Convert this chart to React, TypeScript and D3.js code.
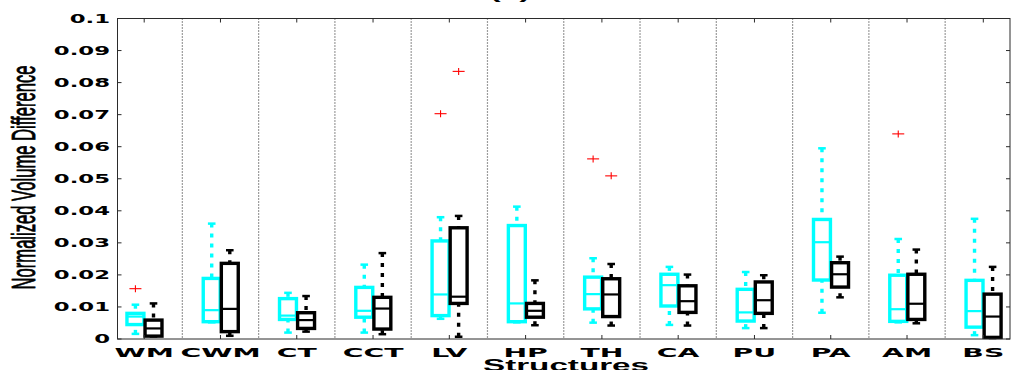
import * as d3 from 'd3'

const structures = ['WM', 'CWM', 'CT', 'CCT', 'LV', 'HP', 'TH', 'CA', 'PU', 'PA', 'AM', 'BS']
const yTicks = [0, 0.01, 0.02, 0.03, 0.04, 0.05, 0.06, 0.07, 0.08, 0.09, 0.1]
const yTickLabels = ['0', '0.01', '0.02', '0.03', '0.04', '0.05', '0.06', '0.07', '0.08', '0.09', '0.1']

// cyan series (left box of each pair)
const cyanLow = [0.0016, 0.0052, 0.0020, 0.0020, 0.0063, 0.0052, 0.0051, 0.0044, 0.0034, 0.0082, 0.0052, 0.0012]
const cyanQ1 = [0.0045, 0.0054, 0.0061, 0.0068, 0.0073, 0.0054, 0.0094, 0.0103, 0.0056, 0.0184, 0.0055, 0.0037]
const cyanMed = [0.0070, 0.0090, 0.0073, 0.0088, 0.0139, 0.0111, 0.0140, 0.0168, 0.0083, 0.0302, 0.0093, 0.0087]
const cyanQ3 = [0.0080, 0.0189, 0.0126, 0.0161, 0.0306, 0.0354, 0.0193, 0.0202, 0.0155, 0.0373, 0.0199, 0.0183]
const cyanHigh = [0.0107, 0.0360, 0.0144, 0.0232, 0.0380, 0.0413, 0.0252, 0.0225, 0.0209, 0.0595, 0.0312, 0.0375]
const cyanOutliers = [[0.0157], [], [], [], [0.0703], [], [0.0562], [], [], [], [0.0640], []]

// black series (right box of each pair)
const blackLow = [0.0008, 0.0010, 0.0023, 0.0015, 0.0007, 0.0043, 0.0042, 0.0042, 0.0034, 0.0130, 0.0049, 0.0003]
const blackQ1 = [0.0009, 0.0023, 0.0033, 0.0031, 0.0111, 0.0068, 0.0070, 0.0083, 0.0080, 0.0162, 0.0061, 0.0005]
const blackMed = [0.0033, 0.0094, 0.0059, 0.0095, 0.0132, 0.0088, 0.0139, 0.0118, 0.0121, 0.0202, 0.0110, 0.0070]
const blackQ3 = [0.0059, 0.0236, 0.0082, 0.0130, 0.0347, 0.0111, 0.0188, 0.0166, 0.0178, 0.0238, 0.0202, 0.0140]
const blackHigh = [0.0111, 0.0277, 0.0134, 0.0268, 0.0384, 0.0183, 0.0234, 0.0201, 0.0199, 0.0257, 0.0279, 0.0225]
const blackOutliers = [[], [], [], [], [0.0835], [], [0.0509], [], [], [], [], []]

const series = [
  { color: '#00ffff', offset: -0.115, low: cyanLow, q1: cyanQ1, med: cyanMed, q3: cyanQ3, high: cyanHigh, out: cyanOutliers },
  { color: '#000000', offset: 0.122, low: blackLow, q1: blackQ1, med: blackMed, q3: blackQ3, high: blackHigh, out: blackOutliers }
]

const W = 1011
const H = 370
const left = 117.5
const right = 1010
const top = 18.5
const bottom = 339
const halfBox = 0.111
const axisColor = '#2b2b2b'
const font = '"Liberation Sans", Arial, sans-serif'
const heavyFont = '"DejaVu Sans", Verdana, sans-serif'

export default function App() {
  const x = d3.scaleLinear().domain([0.65, 12.35]).range([left, right])
  const y = d3.scaleLinear().domain([0, 0.1]).range([bottom, top])
  const positions = structures.map((_, i) => i + 1)
  const separators = d3.range(1.5, 12, 1)

  return (
    <svg width={W} height={H} style={{ position: 'absolute', left: 0, top: 0, background: '#fff' }}>
      {/* title, cut off at the top */}
      <text transform={`translate(510, -1) scale(2,1)`} textAnchor="middle" fontFamily={font}
        fontWeight="bold" fontSize={16.6} fill="#000">(a)</text>

      {/* group separators */}
      {separators.map(s => (
        <line key={s} x1={x(s)} x2={x(s)} y1={top} y2={bottom} stroke="#3a3a3a" strokeWidth={1.2}
          strokeDasharray="1,2" />
      ))}

      {/* boxes */}
      {series.map((s, si) => (
        <g key={si}>
          {positions.map((p, i) => {
            const cx = x(p + s.offset)
            const x0 = x(p + s.offset - halfBox)
            const x1 = x(p + s.offset + halfBox)
            return (
              <g key={i}>
                <line x1={cx} x2={cx} y1={y(s.high[i])} y2={y(s.q3[i])} stroke={s.color} strokeWidth={3.4}
                  strokeDasharray="4,6" />
                <line x1={cx} x2={cx} y1={y(s.low[i])} y2={y(s.q1[i])} stroke={s.color} strokeWidth={3.4}
                  strokeDasharray="4,6" />
                <line x1={cx - 3.8} x2={cx + 3.8} y1={y(s.high[i])} y2={y(s.high[i])} stroke={s.color} strokeWidth={2.5} />
                <line x1={cx - 3.8} x2={cx + 3.8} y1={y(s.low[i])} y2={y(s.low[i])} stroke={s.color} strokeWidth={2.5} />
                <rect x={x0} y={y(s.q3[i])} width={x1 - x0} height={y(s.q1[i]) - y(s.q3[i])}
                  fill="none" stroke={s.color} strokeWidth={3.4} />
                <line x1={x0} x2={x1} y1={y(s.med[i])} y2={y(s.med[i])} stroke={s.color} strokeWidth={2.2} />
                {s.out[i].map((v, k) => (
                  <g key={k} stroke="#ff0000" strokeWidth={1.1}>
                    <line x1={cx - 6} x2={cx + 6} y1={y(v)} y2={y(v)} />
                    <line x1={cx} x2={cx} y1={y(v) - 3.5} y2={y(v) + 3.5} />
                  </g>
                ))}
              </g>
            )
          })}
        </g>
      ))}

      {/* axes box */}
      <rect x={left} y={top} width={right - left} height={bottom - top} fill="none" stroke={axisColor} strokeWidth={1} />
      {yTicks.map(t => (
        <g key={t}>
          <line x1={left} x2={left + 4} y1={y(t)} y2={y(t)} stroke={axisColor} />
          <line x1={right - 4} x2={right} y1={y(t)} y2={y(t)} stroke={axisColor} />
        </g>
      ))}
      {positions.map(p => (
        <g key={p}>
          <line x1={x(p)} x2={x(p)} y1={bottom} y2={bottom - 4} stroke={axisColor} />
          <line x1={x(p)} x2={x(p)} y1={top} y2={top + 4} stroke={axisColor} />
        </g>
      ))}

      {/* tick labels */}
      {yTicks.map((t, i) => (
        <text key={t} transform={`translate(110, ${y(t)}) scale(1.9,1)`} textAnchor="end" dominantBaseline="central"
          fontFamily={heavyFont} fontWeight="bold" fontSize={12} fill="#000">{yTickLabels[i]}</text>
      ))}
      {structures.map((name, i) => (
        <text key={name} transform={`translate(${x(positions[i])}, 356.5) scale(2.3,1)`} textAnchor="middle"
          fontFamily={heavyFont} fontWeight="bold" fontSize={12.3} fill="#000">{name}</text>
      ))}

      {/* axis labels */}
      <text transform={`translate(566, 371) scale(2,1)`} textAnchor="middle" fontFamily={font}
        fontWeight="bold" fontSize={16.6} fill="#000">Structures</text>
      <text transform={`translate(23.5, 177.5) scale(1.95,1) rotate(-90)`} textAnchor="middle"
        dominantBaseline="central" fontFamily={font} fontSize={16.6} fill="#000" stroke="#000"
        strokeWidth={0.45}>Normalized Volume Difference</text>
    </svg>
  )
}
